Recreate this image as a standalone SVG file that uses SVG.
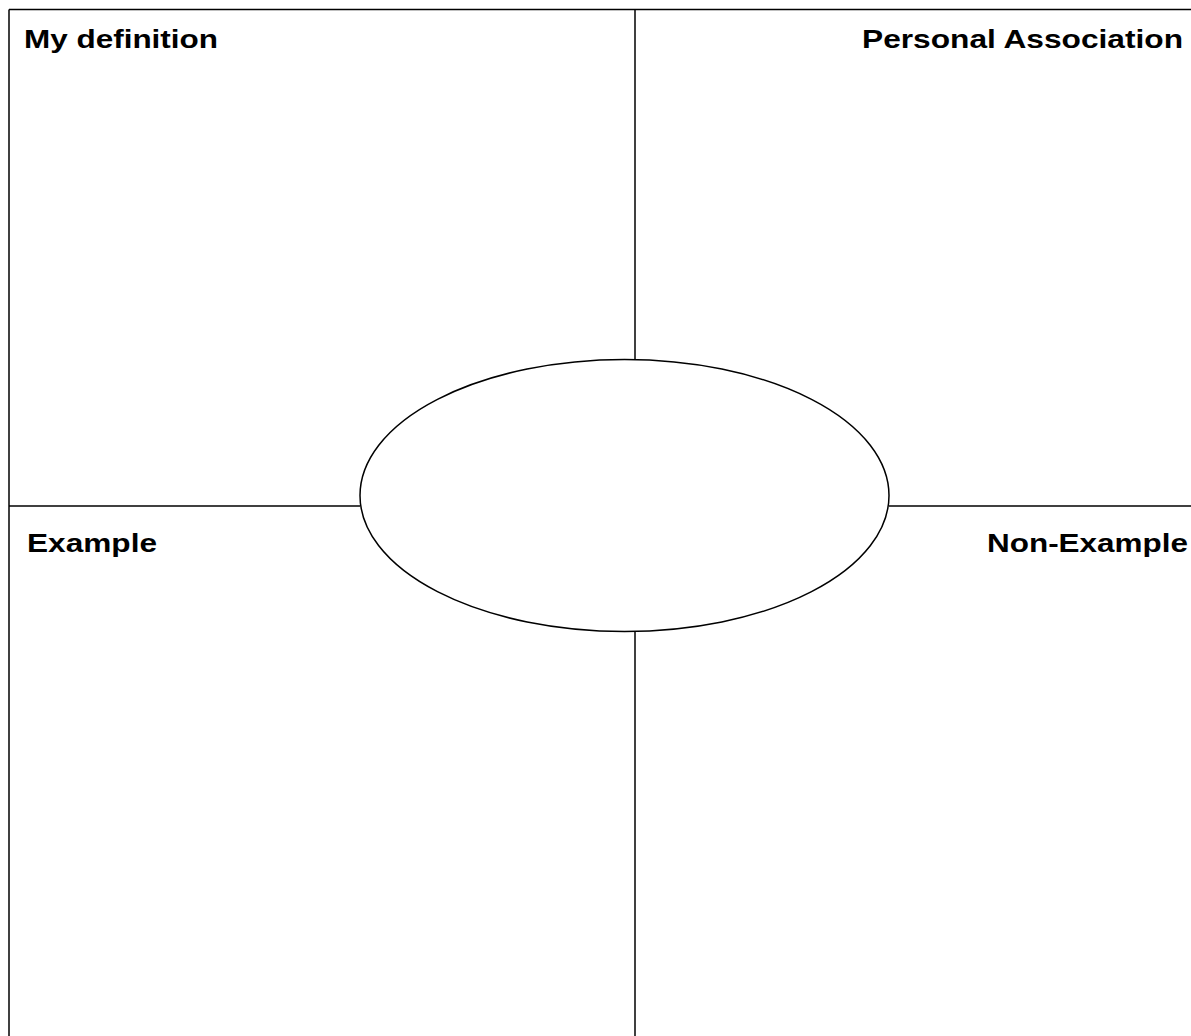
<svg xmlns="http://www.w3.org/2000/svg" width="1191" height="1036" viewBox="0 0 1191 1036">
<style>
.ln{stroke:#000;stroke-width:1.5;fill:none}
.lbl{font-family:"Liberation Sans",Arial,sans-serif;font-weight:bold;font-size:26.5px;fill:#000}
</style>
<rect width="1191" height="1036" fill="#fff"/>
<g id="connectors">
<line class="ln" x1="9" y1="9.5" x2="1191" y2="9.5"/>
<line class="ln" x1="9" y1="9.5" x2="9" y2="1036"/>
<line class="ln" x1="635" y1="9.5" x2="635" y2="360"/>
<line class="ln" x1="635" y1="631" x2="635" y2="1036"/>
<line class="ln" x1="9" y1="506" x2="360" y2="506"/>
<line class="ln" x1="889" y1="506" x2="1191" y2="506"/>
</g>
<g id="center">
<ellipse class="ln" cx="624.5" cy="495.5" rx="264.5" ry="136"/>
</g>
<g id="my-definition">
<text class="lbl" x="24" y="48" textLength="194" lengthAdjust="spacingAndGlyphs">My definition</text>
</g>
<g id="personal-association">
<text class="lbl" x="862" y="48" textLength="321" lengthAdjust="spacingAndGlyphs">Personal Association</text>
</g>
<g id="example">
<text class="lbl" x="27" y="552" textLength="130" lengthAdjust="spacingAndGlyphs">Example</text>
</g>
<g id="non-example">
<text class="lbl" x="987" y="552" textLength="201" lengthAdjust="spacingAndGlyphs">Non-Example</text>
</g>
</svg>
